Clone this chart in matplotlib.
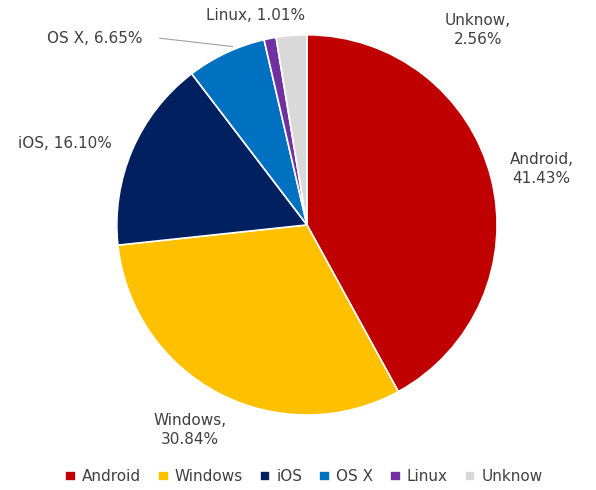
import matplotlib.pyplot as plt

labels = ['Android', 'Windows', 'iOS', 'OS X', 'Linux', 'Unknow']
shares = [41.43, 30.84, 16.10, 6.65, 1.01, 2.56]
colors = ['#C00000', '#FFC000', '#002060', '#0070C0', '#7030A0', '#D9D9D9']

fig = plt.figure(figsize=(5.96, 4.9), dpi=100)
ax = fig.add_axes([0.196, 0.153, 0.638, 0.776])
wedges, _ = ax.pie(shares, colors=colors, startangle=90, counterclock=False,
                   wedgeprops=dict(edgecolor='white', linewidth=1.2))
ax.set_aspect('equal')
ax.set_xlim(-1, 1)
ax.set_ylim(-1, 1)

# label positions (figure fractions)
pos = {'Unknow': (0.802, 0.939), 'Android': (0.909, 0.655),
       'Windows': (0.319, 0.122), 'iOS': (0.109, 0.708),
       'OS X': (0.159, 0.922), 'Linux': (0.428, 0.969)}
for lab, v in zip(labels, shares):
    x, y = pos[lab]
    if lab in ('OS X', 'Linux', 'iOS'):
        txt = f'{lab}, {v:.2f}%'
    else:
        txt = f'{lab},\n{v:.2f}%'
    fig.text(x, y, txt, ha='center', va='center', fontsize=11, color='#404040',
             linespacing=1.3)
fig.add_artist(plt.Line2D([0.268, 0.39], [0.922, 0.905], color='#A0A0A0', lw=0.8))

fig.legend(wedges, labels, loc='center', bbox_to_anchor=(0.51, 0.027),
           ncol=6, frameon=False, fontsize=11, handlelength=0.7, handleheight=0.7,
           columnspacing=1.1, handletextpad=0.4, labelcolor='#404040')
fig.savefig('out.png', dpi=100)
